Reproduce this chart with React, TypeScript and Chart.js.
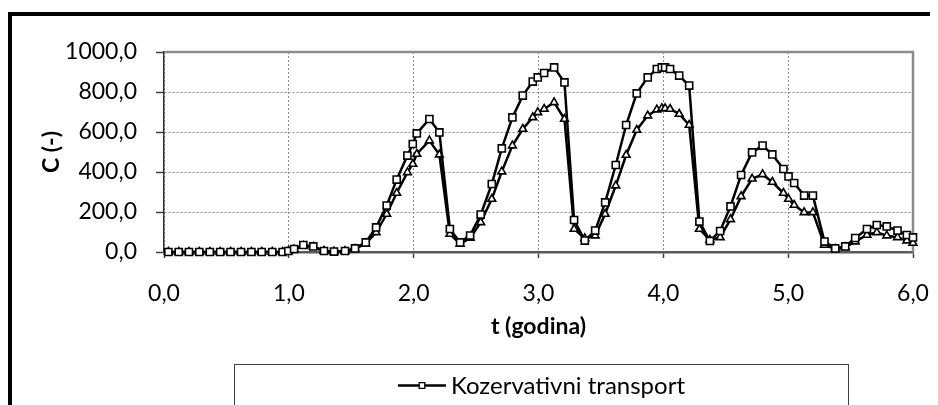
import React, { useEffect, useRef } from 'react';
import { Chart, registerables } from 'chart.js';
import { drawPoint } from 'chart.js/helpers';

Chart.register(...registerables);

// time (years)
const T = [
  0.035, 0.118, 0.2, 0.283, 0.367, 0.45, 0.533, 0.617, 0.7, 0.783, 0.867, 0.95,
  0.996, 1.042, 1.116, 1.196, 1.282, 1.362, 1.45, 1.53, 1.616, 1.699,
  1.784, 1.864, 1.95, 1.993, 2.025, 2.126, 2.206, 2.29, 2.372, 2.452,
  2.537, 2.626, 2.706, 2.791, 2.874, 2.954, 2.994, 3.045, 3.125, 3.208,
  3.285, 3.371, 3.454, 3.534, 3.619, 3.702, 3.787, 3.875, 3.948, 3.988,
  4.014, 4.054, 4.127, 4.207, 4.289, 4.373, 4.455, 4.538, 4.623, 4.711,
  4.795, 4.873, 4.962, 5.003, 5.048, 5.128, 5.198, 5.291, 5.377, 5.457,
  5.537, 5.631, 5.71, 5.79, 5.876, 5.951, 6.0,
];

// Kozervativni transport (squares)
const KONZ = [
  0, 0, 0, 0, 0, 0, 0, 0, 0, 0, 0, 0,
  5, 15, 35, 28, 5, 2, 5, 18, 48, 123,
  232, 362, 482, 540, 593, 665, 598, 115, 48, 82,
  187, 340, 518, 673, 782, 852, 873, 895, 923, 848,
  160, 57, 107, 248, 435, 635, 793, 873, 915, 923,
  923, 915, 882, 832, 152, 55, 105, 228, 385, 498,
  532, 488, 415, 378, 345, 282, 282, 52, 18, 28,
  70, 115, 135, 128, 107, 85, 73,
];

// second series (triangles)
const REAK = [
  0, 0, 0, 0, 0, 0, 0, 0, 0, 0, 0, 0,
  4, 12, 30, 25, 5, 2, 4, 15, 42, 98,
  190, 295, 398, 440, 490, 557, 487, 90, 40, 70,
  148, 265, 402, 532, 615, 673, 698, 715, 748, 665,
  115, 68, 82, 190, 332, 485, 610, 682, 712, 718,
  718, 715, 690, 635, 115, 60, 73, 163, 278, 366,
  388, 350, 295, 265, 235, 198, 198, 35, 15, 23,
  52, 85, 98, 82, 73, 57, 45,
];

const SERIES_NAMES = ['Kozervativni transport', 'Reaktivni transport'];
const X_TITLE = 't (godina)';
const Y_TITLE = 'C (-)';
const X_MIN = 0, X_MAX = 6, X_STEP = 1;
const Y_MIN = 0, Y_MAX = 1000, Y_STEP = 200;

const FONT = 'Lato, "Open Sans", sans-serif';
const fmt = (v: number | string) => Number(v).toFixed(1).replace('.', ',');

const plotFrame = {
  id: 'plotFrame',
  beforeDatasetsDraw(chart: any) {
    const { ctx, chartArea: a } = chart;
    ctx.save();
    ctx.strokeStyle = '#8c8c8c';
    ctx.lineWidth = 2.5;
    ctx.beginPath();
    ctx.moveTo(a.left, a.top);
    ctx.lineTo(a.right, a.top);
    ctx.lineTo(a.right, a.bottom);
    ctx.stroke();
    ctx.restore();
  },
};

const boxLegend = {
  id: 'boxLegend',
  afterDraw(chart: any) {
    const { ctx, chartArea: a } = chart;
    const left = Math.round(a.left + 70) + 0.5;
    const right = Math.round(a.right - 65) + 0.5;
    const top = Math.round(a.bottom + 112) + 0.5;
    ctx.save();
    ctx.strokeStyle = '#404040';
    ctx.lineWidth = 1;
    ctx.strokeRect(left, top, right - left, 120);
    ctx.font = `24px ${FONT}`;
    ctx.textBaseline = 'middle';
    ctx.textAlign = 'left';
    chart.data.datasets.forEach((ds: any, i: number) => {
      const cy = top + 21 + i * 31;
      const tw = ctx.measureText(ds.label).width;
      const gw = 48 + 5 + tw;
      const x0 = (left + right) / 2 - gw / 2;
      ctx.strokeStyle = '#000';
      ctx.lineWidth = 2.5;
      ctx.beginPath();
      ctx.moveTo(x0, cy);
      ctx.lineTo(x0 + 48, cy);
      ctx.stroke();
      ctx.fillStyle = '#fff';
      ctx.lineWidth = 1.3;
      drawPoint(ctx, { pointStyle: ds.pointStyle, radius: 4, borderWidth: 1.3, rotation: 0 } as any, x0 + 24, cy);
      ctx.fillStyle = '#000';
      ctx.fillText(ds.label, x0 + 53, cy + 1);
    });
    ctx.restore();
  },
};

export default function App() {
  const ref = useRef<HTMLCanvasElement>(null);
  useEffect(() => {
    const tickFont = { family: FONT, size: 23, lineHeight: 1.2 };
    const titleFont = { family: FONT, size: 23, weight: 'bold' as const, lineHeight: 1.2 };
    const chart = new Chart(ref.current!, {
      type: 'scatter',
      data: {
        datasets: [
          {
            label: SERIES_NAMES[0],
            data: T.map((t, i) => ({ x: t, y: KONZ[i] })),
            showLine: true,
            borderColor: '#000',
            borderWidth: 2.5,
            pointStyle: 'rect',
            pointRadius: 5,
            pointBorderWidth: 1.6,
            pointBorderColor: '#000',
            pointBackgroundColor: '#fff',
            clip: false as any,
          },
          {
            label: SERIES_NAMES[1],
            data: T.map((t, i) => ({ x: t, y: REAK[i] })),
            showLine: true,
            borderColor: '#000',
            borderWidth: 2.5,
            pointStyle: 'triangle',
            pointRadius: 4.5,
            pointBorderWidth: 1.6,
            pointBorderColor: '#000',
            pointBackgroundColor: '#fff',
            clip: false as any,
          },
        ],
      },
      options: {
        responsive: false,
        animation: false,
        events: [],
        color: '#000',
        layout: { padding: { top: 36, left: 0, right: 49, bottom: 134 } },
        plugins: {
          legend: { display: false },
          tooltip: { enabled: false },
        },
        scales: {
          x: {
            type: 'linear',
            min: X_MIN,
            max: X_MAX,
            afterFit: (s: any) => { s.height = 100; },
            ticks: {
              stepSize: X_STEP,
              color: '#000',
              font: tickFont,
              padding: 21.5,
              maxRotation: 0,
              callback: (v: any) => fmt(v),
            },
            grid: {
              color: '#8a8a8a',
              lineWidth: 1,
              tickLength: 6,
              tickColor: '#404040',
              tickWidth: 1.5,
            },
            border: { display: true, color: '#5a5a5a', width: 2.5, dash: [2, 2] },
            title: {
              display: true,
              text: X_TITLE,
              color: '#000',
              font: titleFont,
              padding: { top: 0, bottom: 11.5 },
            },
          },
          y: {
            type: 'linear',
            min: Y_MIN,
            max: Y_MAX,
            afterFit: (s: any) => { s.width = 152; },
            ticks: {
              stepSize: Y_STEP,
              color: '#000',
              font: tickFont,
              padding: 19,
              callback: (v: any) => fmt(v),
            },
            grid: {
              color: '#8a8a8a',
              lineWidth: 1,
              tickLength: 8,
              tickColor: '#404040',
              tickWidth: 1.5,
            },
            border: { display: true, color: '#303030', width: 1.5, dash: [2, 2] },
            title: {
              display: true,
              text: Y_TITLE,
              color: '#000',
              font: titleFont,
              padding: { top: 26, bottom: 0 },
            },
          },
        },
      },
      plugins: [plotFrame, boxLegend],
    } as any);
    return () => chart.destroy();
  }, []);

  return (
    <div style={{ position: 'relative', width: 930, height: 397, overflow: 'hidden', background: '#fff' }}>
      <div
        style={{
          position: 'absolute',
          left: 0,
          top: 4,
          width: 980,
          height: 500,
          borderTop: '4px solid #000',
          borderLeft: '4px solid #000',
          background: '#fff',
        }}
      >
        <canvas ref={ref} width={950} height={470} style={{ display: 'block', width: 950, height: 470 }} />
      </div>
    </div>
  );
}
